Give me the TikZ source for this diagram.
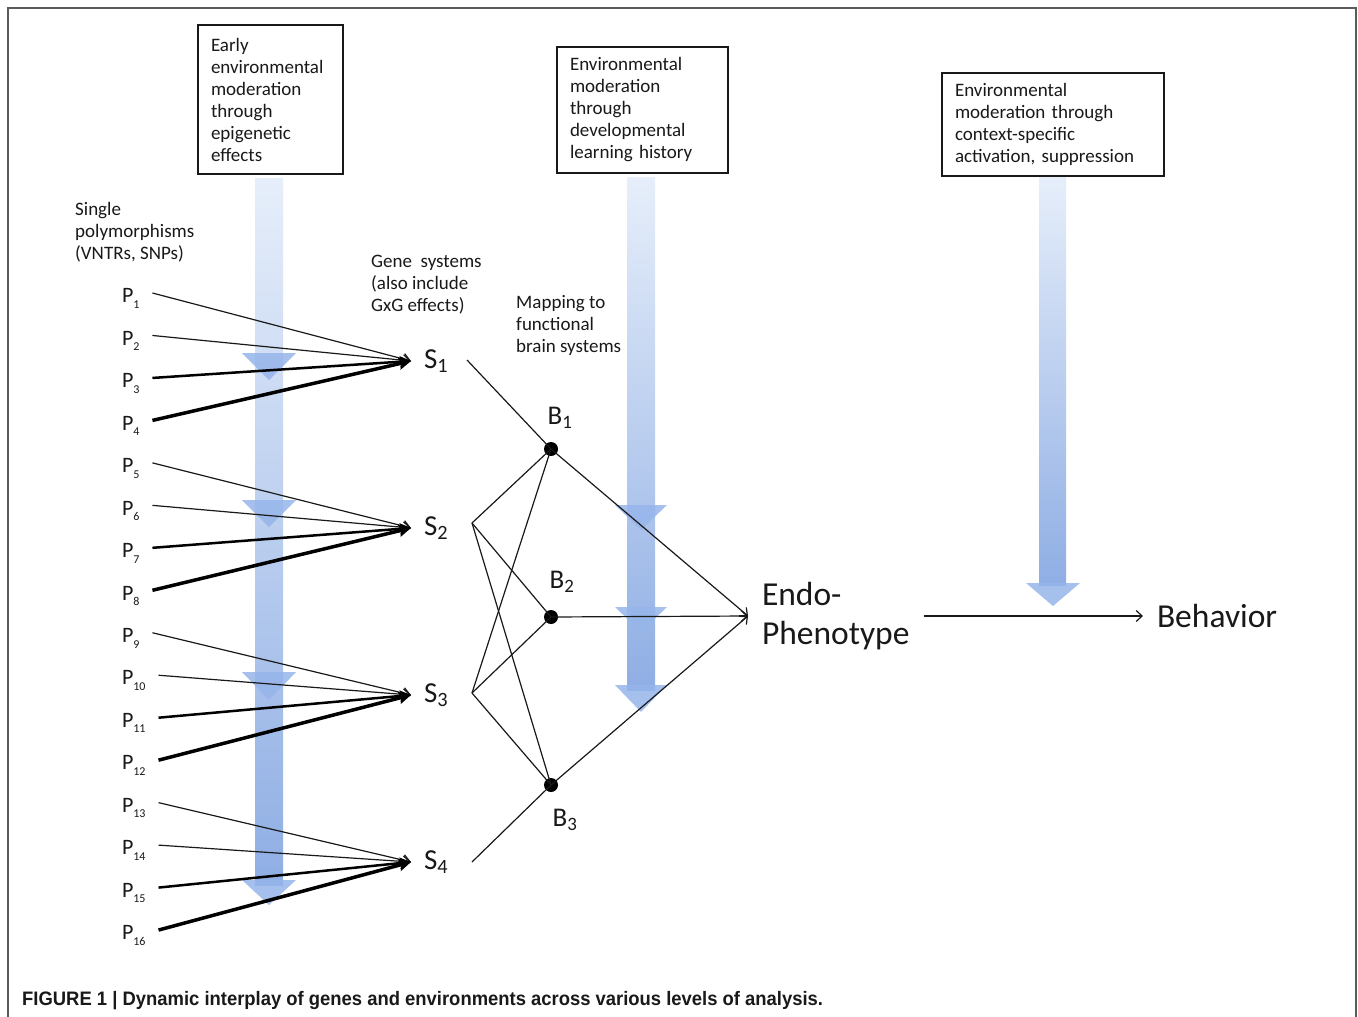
\documentclass[tikz,border=0pt]{standalone}
\usepackage{fontspec}
\setmainfont{Carlito}
\newfontfamily\capfont[FakeStretch=0.945]{Liberation Sans}
\usetikzlibrary{arrows.meta,calc}
\definecolor{bluetop}{RGB}{230,238,250}
\definecolor{bluebot}{RGB}{143,174,228}
\definecolor{bluehead}{RGB}{150,181,234}
\definecolor{ink}{RGB}{25,25,25}
\definecolor{framegray}{RGB}{90,90,90}
\newcommand\bluehd[4]{\fill[bluehead, fill opacity=0.85] (#1-#4,#2) -- (#1+#4,#2) -- (#1,#3) -- cycle;}
\newcommand\psub[1]{\rule{0pt}{25pt}P\raisebox{-0.25em}{\fontsize{12}{12}\selectfont #1}}
\begin{document}
\begin{tikzpicture}[x=1pt,y=-1pt,
  txt/.style={font=\fontsize{19}{22}\selectfont, text=ink, align=left, inner sep=0pt},
  envbox/.style={draw=ink, line width=1.4pt, font=\fontsize{19}{22}\selectfont, text=ink, align=left, inner sep=0pt},
  plab/.style={font=\fontsize{22}{22}\selectfont, text=ink, inner sep=0pt, outer xsep=13pt, anchor=west},
  slab/.style={font=\fontsize{29}{29}\selectfont, text=ink, inner sep=0pt, outer xsep=13pt, anchor=west},
  blab/.style={font=\fontsize{27}{27}\selectfont, text=ink, inner sep=0pt},
  big/.style={font=\fontsize{33.5}{39}\selectfont, text=ink, align=left, inner sep=0pt, outer xsep=14pt, anchor=west},
  dot/.style={circle, fill=black, inner sep=0pt, minimum size=14pt},
  thinline/.style={draw=ink, line width=1.2pt},
  pthin/.style={draw=ink, line width=1.2pt, -{Straight Barb[length=7pt,width=11pt]}},
  pmid/.style={draw=black, line width=2.5pt, -{Stealth[length=11pt,width=11pt,inset=2pt]}},
  pthick/.style={draw=black, line width=3.5pt, -{Stealth[length=12pt,width=12pt,inset=2pt]}},
  openarr/.style={draw=ink, line width=1.2pt, -{Straight Barb[length=6pt,width=11pt]}}
]
\useasboundingbox (0,0) rectangle (1358,1017);
\fill[white] (0,0) rectangle (1358,1017);
% frame
\draw[framegray, line width=2pt] (8,1017) -- (8,8) -- (1356,8) -- (1356,1017);

% blue arrows
\shade[top color=bluetop, bottom color=bluebot] (255,178) rectangle (283,885);
\bluehd{269}{353}{380}{27}
\bluehd{269}{500}{527}{27}
\bluehd{269}{672}{700}{27}
\bluehd{269}{880}{905}{27}
\shade[top color=bluetop, bottom color=bluebot] (627,177) rectangle (655,690);
\bluehd{641}{505}{530}{26}
\bluehd{641}{607}{632}{26}
\bluehd{641}{685}{712}{26}
\shade[top color=bluetop, bottom color=bluebot] (1039,177) rectangle (1066,585);
\bluehd{1053}{583}{606}{27}

% boxes
\node[envbox, minimum width=145pt, minimum height=149pt, text width=119pt] (box1) at (270.5,99.5)
  {Early\\environmental\\moderation\\through\\epigenetic\\effects};
\node[envbox, minimum width=171pt, minimum height=126pt, text width=145pt] (box2) at (642.5,110)
  {Environmental\\moderation\\through\\developmental\\learning history};
\node[envbox, minimum width=222pt, minimum height=103pt, text width=196pt] (box3) at (1053,124.5)
  {Environmental\\moderation through\\context-specific\\activation, suppression};

% captions of columns
\node[txt, anchor=north west] (singlelab) at (75,202) {Single\\polymorphisms\\(VNTRs, SNPs)};
\node[txt, anchor=north west] (genelab) at (371,255) {Gene\ \ systems\\(also include\\GxG effects)};
\node[txt, anchor=north west] (maplab) at (516,295) {Mapping to\\functional\\brain systems};

% P nodes
\foreach \i in {1,...,16}{
  \pgfmathsetmacro{\yy}{293+42.47*(\i-1)}
  \node[plab] (p\i) at (109,\yy) {\psub{\i}};
}
% S nodes
\node[slab] (s1) at (411,361) {S\textsubscript{1}};
\node[slab] (s2) at (411,528) {S\textsubscript{2}};
\node[slab] (s3) at (411,695) {S\textsubscript{3}};
\node[slab] (s4) at (411,862) {S\textsubscript{4}};

% P -> S
\foreach \g in {1,2,3,4}{
  \pgfmathtruncatemacro{\a}{4*\g-3}
  \pgfmathtruncatemacro{\b}{4*\g-2}
  \pgfmathtruncatemacro{\c}{4*\g-1}
  \pgfmathtruncatemacro{\d}{4*\g}
  \draw[pthin] (p\a.east) -- (s\g.west);
  \draw[pthin] (p\b.east) -- (s\g.west);
  \draw[pmid] (p\c.east) -- (s\g.west);
  \draw[pthick] (p\d.east) -- (s\g.west);
}

% S out points
\coordinate (s1o) at (467,360);
\coordinate (s2o) at (472,523);
\coordinate (s3o) at (472,693);
\coordinate (s4o) at (472,862);

% B nodes
\node[dot] (b1) at (551,449) {};
\node[dot] (b2) at (551,617) {};
\node[dot] (b3) at (551,785) {};
\node[blab] (lb1) at (560,418) {B\textsubscript{1}};
\node[blab] (lb2) at (562,582) {B\textsubscript{2}};
\node[blab] (lb3) at (565,820) {B\textsubscript{3}};

\draw[thinline] (s1o) -- (b1.center);
\draw[thinline] (s2o) -- (b1.center);
\draw[thinline] (s2o) -- (b2.center);
\draw[thinline] (s2o) -- (b3.center);
\draw[thinline] (s3o) -- (b1.center);
\draw[thinline] (s3o) -- (b2.center);
\draw[thinline] (s3o) -- (b3.center);
\draw[thinline] (s4o) -- (b3.center);

% Endo-phenotype, behavior
\node[big] (endo) at (748,616) {Endo-\\Phenotype};
\node[big] (beh) at (1143,616) {Behavior};
\draw[openarr] (b1.center) -- (endo.west);
\draw[openarr] (b2.center) -- (endo.west);
\draw[openarr] (b3.center) -- (endo.west);
\draw[openarr] (endo.east) -- (beh.west);

% figure caption
\node[anchor=base west, inner sep=0pt, text=ink] (cap) at (22,1005)
  {\capfont\bfseries\fontsize{19.5}{21}\selectfont FIGURE 1 | Dynamic interplay of genes and environments across various levels of analysis.};
\end{tikzpicture}
\end{document}
